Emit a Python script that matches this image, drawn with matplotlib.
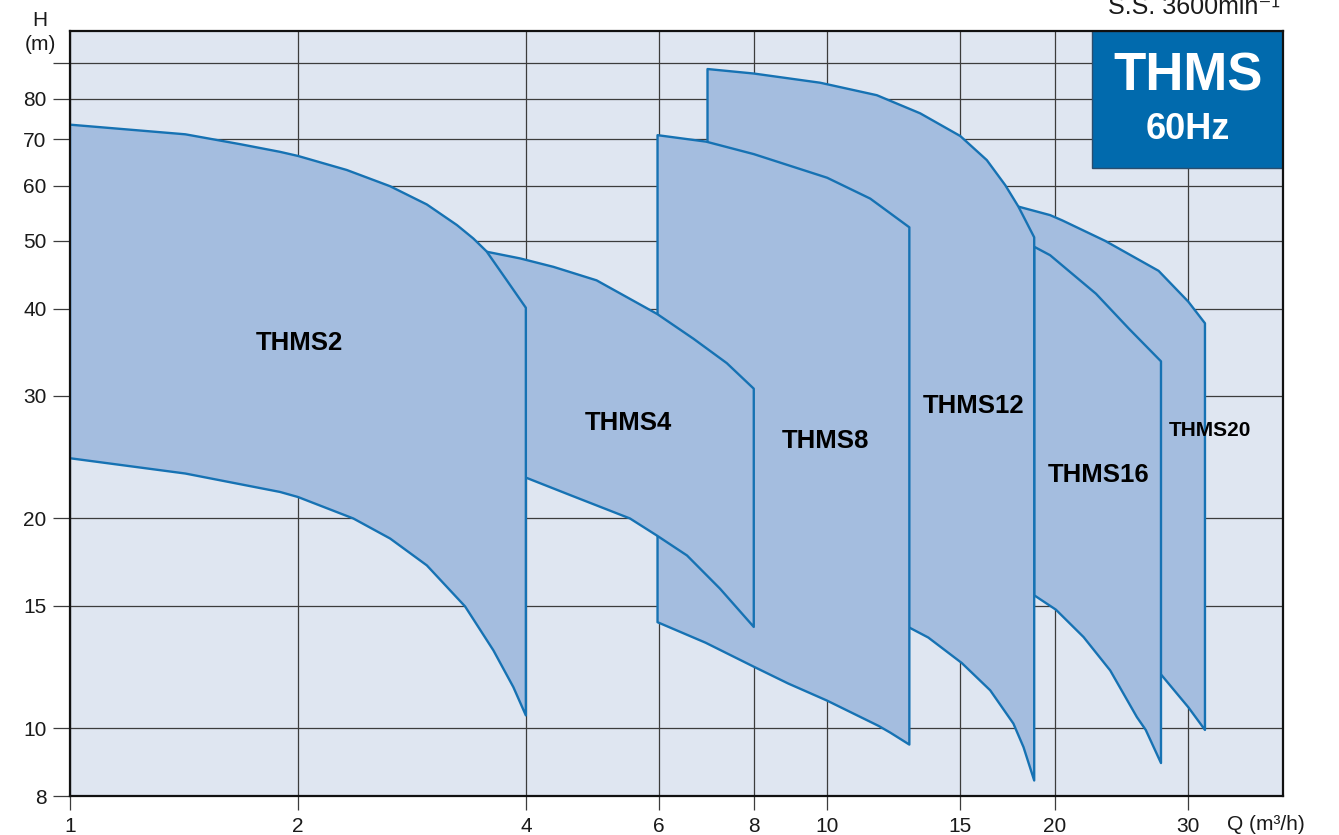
import matplotlib
matplotlib.use('Agg')
import matplotlib.pyplot as plt
from matplotlib.ticker import FixedLocator, FixedFormatter, NullLocator
from matplotlib.patches import Rectangle
from matplotlib import font_manager

# ---------------- data ----------------
names = ['THMS2', 'THMS4', 'THMS8', 'THMS12', 'THMS16', 'THMS20']

q2_up = [1.0, 1.42, 1.68, 1.894, 2.0, 2.32, 2.647, 2.96, 3.243, 3.41, 3.55, 3.775, 4.0]
h2_up = [73.4, 71.1, 68.8, 67.1, 66.2, 63.2, 59.9, 56.4, 52.7, 50.4, 48.3, 43.9, 40.1]
q2_lo = [1.0, 1.42, 1.894, 2.0, 2.367, 2.647, 2.96, 3.325, 3.624, 3.851, 4.0]
h2_lo = [24.4, 23.2, 21.83, 21.47, 20.0, 18.72, 17.13, 14.96, 12.94, 11.46, 10.44]

q4_up = [3.5, 3.93, 4.35, 4.96, 5.96, 6.66, 7.37, 8.0]
h4_up = [48.4, 47.2, 45.9, 43.9, 39.3, 36.2, 33.4, 30.7]
q4_lo = [3.5, 4.0, 4.58, 5.49, 5.96, 6.53, 7.22, 8.0]
h4_lo = [23.7, 22.89, 21.6, 20.0, 18.9, 17.7, 15.86, 13.98]

q8_up = [5.97, 6.92, 8.0, 10.0, 11.4, 12.84]
h8_up = [70.9, 69.4, 66.6, 61.6, 57.5, 52.3]
q8_lo = [5.97, 6.91, 8.0, 8.88, 10.0, 11.7, 12.12, 12.84]
h8_lo = [14.2, 13.27, 12.26, 11.6, 10.96, 10.08, 9.86, 9.48]

q12_up = [6.95, 8.0, 9.79, 11.63, 13.27, 14.99, 16.25, 17.19, 17.89, 18.77]
h12_up = [88.2, 86.9, 84.3, 80.9, 76.2, 70.7, 65.3, 60.1, 56.0, 50.6]
q12_lo = [6.95, 10.0, 12.84, 13.6, 15.06, 16.42, 17.62, 18.17, 18.77]
h12_lo = [17.0, 15.0, 13.95, 13.5, 12.41, 11.34, 10.16, 9.40, 8.42]

q16_up = [18.77, 19.7, 20.45, 22.65, 25.05, 27.6]
h16_up = [49.05, 47.7, 46.1, 42.0, 37.4, 33.6]
q16_lo = [18.77, 20.05, 21.81, 23.65, 25.65, 26.35, 27.6]
h16_lo = [15.52, 14.8, 13.52, 12.11, 10.38, 9.95, 8.92]

q20_up = [17.6, 17.89, 19.7, 20.45, 23.3, 27.4, 30.0, 31.55]
h20_up = [56.5, 56.0, 54.45, 53.5, 50.0, 45.3, 40.9, 38.1]
q20_lo = [17.6, 20.0, 23.3, 27.6, 30.0, 31.55]
h20_lo = [16.0, 15.5, 14.0, 11.95, 10.72, 9.95]

label_q = [2.01, 5.47, 9.94, 15.59, 22.8, 32.06]
label_h = [35.7, 27.4, 25.8, 28.97, 23.1, 26.7]

x_ticks = [1, 2, 4, 6, 8, 10, 15, 20, 30]
x_ticklabels = ['1', '2', '4', '6', '8', '10', '15', '20', '30']
y_ticks = [8, 10, 15, 20, 30, 40, 50, 60, 70, 80, 90]
y_ticklabels = ['8', '10', '15', '20', '30', '40', '50', '60', '70', '80', '']

# ---------------- style ----------------
FILL = '#a4bddf'
EDGE = '#1672b3'
BG = '#dfe6f1'
GRID = '#3c3c3c'
BOX = '#016aad'

plt.rcParams['font.family'] = ['Liberation Sans', 'DejaVu Sans']

avail = {f.name for f in font_manager.fontManager.ttflist}
narrow = 'Liberation Sans Narrow' if 'Liberation Sans Narrow' in avail else 'Liberation Sans'

fig = plt.figure(figsize=(13.39, 8.35), dpi=100)
ax = fig.add_axes([70 / 1339, 1 - 796 / 835, 1213 / 1339, 765 / 835])
ax.set_xscale('log')
ax.set_yscale('log')
ax.set_xlim(1, 40)
ax.set_ylim(8, 100)
ax.set_facecolor(BG)
ax.set_axisbelow(True)

series = [
    (q2_up, h2_up, q2_lo, h2_lo),
    (q4_up, h4_up, q4_lo, h4_lo),
    (q8_up, h8_up, q8_lo, h8_lo),
    (q12_up, h12_up, q12_lo, h12_lo),
    (q16_up, h16_up, q16_lo, h16_lo),
    (q20_up, h20_up, q20_lo, h20_lo),
]

n = len(series)
for i in range(n - 1, -1, -1):
    qu, hu, ql, hl = series[i]
    xs = list(qu) + list(ql[::-1])
    ys = list(hu) + list(hl[::-1])
    ax.fill(xs, ys, facecolor=FILL, edgecolor=EDGE, lw=1.7,
            joinstyle='round', zorder=1 + (n - i) * 0.1)

for i, name in enumerate(names):
    if name == 'THMS20':
        ax.text(label_q[i], label_h[i], name, ha='center', va='center',
                fontsize=18 if narrow != 'Liberation Sans' else 15,
                fontweight='bold', family=[narrow, 'DejaVu Sans'], zorder=5)
    else:
        ax.text(label_q[i], label_h[i], name, ha='center', va='center',
                fontsize=18.5, fontweight='bold', zorder=5)

ax.xaxis.set_major_locator(FixedLocator(x_ticks))
ax.xaxis.set_major_formatter(FixedFormatter(x_ticklabels))
ax.xaxis.set_minor_locator(NullLocator())
ax.yaxis.set_major_locator(FixedLocator(y_ticks))
ax.yaxis.set_major_formatter(FixedFormatter(y_ticklabels))
ax.yaxis.set_minor_locator(NullLocator())

ax.tick_params(axis='x', length=10, width=0.9, pad=5, labelsize=15,
               color=GRID, labelcolor='#1a1a1a')
ax.tick_params(axis='y', length=12, width=0.9, pad=5, labelsize=15,
               color=GRID, labelcolor='#1a1a1a')
ax.grid(True, which='major', color=GRID, lw=0.9)

for sp in ax.spines.values():
    sp.set_linewidth(1.6)
    sp.set_color('#111111')
    sp.set_zorder(6)

# Title box
ax.add_patch(Rectangle((0.8425, 0.821), 0.1575, 0.179, transform=ax.transAxes,
                       facecolor=BOX, edgecolor='#2a4d6e', lw=1.0, zorder=4))
ax.text(0.9217, 0.941, 'THMS', transform=ax.transAxes, ha='center', va='center',
        color='white', fontsize=38, fontweight='bold', zorder=5)
ax.text(0.9217, 0.8706, '60Hz', transform=ax.transAxes, ha='center', va='center',
        color='white', fontsize=26, fontweight='bold', zorder=5)

# Axis annotations
fig.text(40 / 1339, 1 - 21 / 835, 'H', ha='center', va='center', fontsize=15, color='#1a1a1a')
fig.text(40 / 1339, 1 - 45 / 835, '(m)', ha='center', va='center', fontsize=15, color='#1a1a1a')
fig.text(1227 / 1339, 1 - 825 / 835, 'Q (m³/h)', ha='left', va='center', fontsize=15, color='#1a1a1a')
fig.text(1280 / 1339, 1 - 14 / 835, 'S.S. 3600min⁻¹', ha='right', va='baseline',
         fontsize=18, color='#1a1a1a', family=['Liberation Sans', 'DejaVu Sans'])

fig.savefig('out.png', dpi=100)
